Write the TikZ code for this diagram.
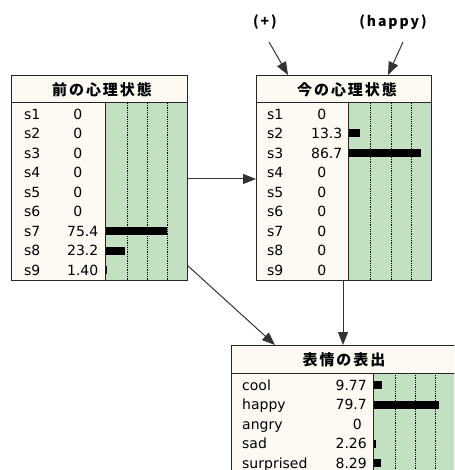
\documentclass[tikz,border=0pt]{standalone}
\usepackage{fontspec}
\setmainfont{DejaVu Sans}
\newfontfamily\cjkt{Noto Sans CJK JP}[LetterSpace=13]
\newfontfamily\cjkh{Noto Sans CJK JP}[LetterSpace=14]
\usetikzlibrary{arrows.meta}
\definecolor{cream}{RGB}{253,250,244}
\definecolor{pgreen}{RGB}{195,224,195}
\begin{document}
\begin{tikzpicture}[x=1pt,y=-1pt,
  frame/.style={draw=black!85, line width=1pt, rectangle, inner sep=0pt, anchor=north west},
  ttl/.style={font=\cjkt\bfseries\fontsize{15}{15}\selectfont, inner sep=0pt},
  top/.style={font=\cjkh\bfseries\fontsize{14}{14}\selectfont, inner sep=0pt},
  lab/.style={font=\fontsize{14}{14}\selectfont, inner sep=0pt, anchor=base west},
  val/.style={font=\fontsize{14}{14}\selectfont, inner sep=0pt, anchor=base east},
  gridl/.style={densely dotted, line width=0.8pt, black},
  sepl/.style={draw=black!85, line width=1pt},
  link/.style={draw=black!80, line width=1pt, -{Triangle[length=13pt,width=10pt]}},
]
\useasboundingbox (0,0) rectangle (454,470);
\begin{scope}
\clip (0,0) rectangle (454,470);

% ---------- Box A ----------
\fill[cream] (11,75) rectangle (187,280);
\fill[pgreen] (105,103) rectangle (187,280);
\foreach \gx in {127,147,167}{\draw[gridl] (\gx,103) -- (\gx,280);}
\draw[sepl] (105,103) -- (105,280);
\draw[sepl] (11,103) -- (187,103);
\node[frame, minimum width=176pt, minimum height=205pt] (A) at (11,75) {};
\node[ttl] (A-t) at (102,90) {前の心理状態};
\foreach \l/\v/\vx [count=\i] in {s1/0/82.5,s2/0/82.5,s3/0/82.5,s4/0/82.5,s5/0/82.5,s6/0/82.5,s7/75.4/98.5,s8/23.2/98.5,s9/1.40/98.5}{
  \node[lab] (A-l\i) at (24,{114+19.5*(\i-1)+5.1}) {\l};
  \node[val] (A-v\i) at (\vx,{114+19.5*(\i-1)+5.1}) {\v};
}
\foreach \b/\i in {61/7,19/8,1.5/9}{
  \fill (105.5,{114+19.5*(\i-1)-4}) rectangle ++(\b,8);
}

% ---------- Box B ----------
\fill[cream] (256,75) rectangle (431,280);
\fill[pgreen] (348,103) rectangle (431,280);
\foreach \gx in {370,391,411}{\draw[gridl] (\gx,103) -- (\gx,280);}
\draw[sepl] (348,103) -- (348,280);
\draw[sepl] (256,103) -- (431,103);
\node[frame, minimum width=175pt, minimum height=205pt] (B) at (256,75) {};
\node[ttl] (B-t) at (347,90) {今の心理状態};
\foreach \l/\v/\vx [count=\i] in {s1/0/326.5,s2/13.3/342.5,s3/86.7/342.5,s4/0/326.5,s5/0/326.5,s6/0/326.5,s7/0/326.5,s8/0/326.5,s9/0/326.5}{
  \node[lab] (B-l\i) at (267,{114+19.5*(\i-1)+5.1}) {\l};
  \node[val] (B-v\i) at (\vx,{114+19.5*(\i-1)+5.1}) {\v};
}
\foreach \b/\i in {11/2,72/3}{
  \fill (348.5,{114+19.5*(\i-1)-4}) rectangle ++(\b,8);
}

% ---------- Box C ----------
\fill[cream] (231,345) rectangle (460,480);
\fill[pgreen] (373,373) rectangle (460,480);
\foreach \gx in {395,415,435}{\draw[gridl] (\gx,373) -- (\gx,480);}
\draw[sepl] (373,373) -- (373,480);
\draw[sepl] (231,373) -- (460,373);
\node[frame, minimum width=229pt, minimum height=135pt] (C) at (231,345) {};
\node[ttl] (C-t) at (344,360) {表情の表出};
\foreach \l/\v/\vx [count=\i] in {cool/9.77/367,happy/79.7/367,angry/0/362,sad/2.26/367,surprised/8.29/367}{
  \node[lab] (C-l\i) at (242,{385+19.5*(\i-1)+5.1}) {\l};
  \node[val] (C-v\i) at (\vx,{385+19.5*(\i-1)+5.1}) {\v};
}
\foreach \b/\i in {8/1,65/2,2/4,7/5}{
  \fill (373.5,{385+19.5*(\i-1)-4}) rectangle ++(\b,8);
}

% ---------- Top labels ----------
\node[top] (plus) at (265,22) {(+)};
\node[top] (hap) at (393,22) {(happy)};

% ---------- Connectors ----------
\coordinate (plus-o) at (269,42);
\coordinate (B-in1) at (288,75);
\coordinate (hap-o) at (403,42);
\coordinate (B-in2) at (388,75);
\coordinate (A-o1) at (187,179);
\coordinate (B-in3) at (256,179);
\coordinate (A-o2) at (187,265);
\coordinate (C-in1) at (275,345);
\coordinate (B-o) at (343,280);
\coordinate (C-in2) at (343,345);
\draw[link] (plus-o) -- (B-in1);
\draw[link] (hap-o) -- (B-in2);
\draw[link] (A-o1) -- (B-in3);
\draw[link] (A-o2) -- (C-in1);
\draw[link] (B-o) -- (C-in2);
\end{scope}
\end{tikzpicture}
\end{document}
